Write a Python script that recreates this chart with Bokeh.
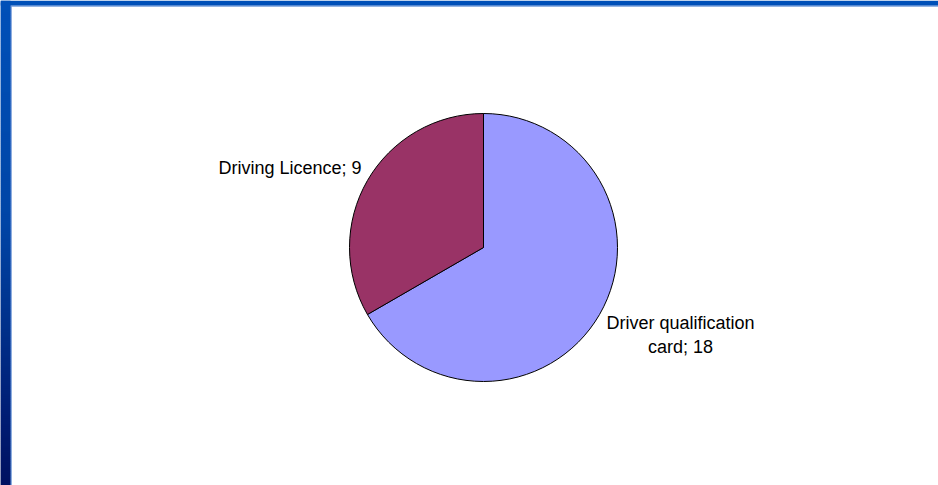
import math
from bokeh.plotting import figure
from bokeh.models import Range1d, ColumnDataSource
from bokeh.core.properties import value
from bokeh.embed import file_html
from bokeh.resources import INLINE

# ---- data ----
categories = ["Driver qualification card", "Driving Licence"]
values = [18, 9]
colors = ["#9999FF", "#993366"]

# ---- layout (figure pixel coordinates, origin bottom-left) ----
W, H = 938, 485
CX, CY, R = 483, H - 247, 134
# label anchors: (x, baseline y, align) per category, lines wrapped
label_lines = [["Driver qualification", "card; 18"], ["Driving Licence; 9"]]
label_pos = [(680, H - 322, "center"), (218, H - 167, "left")]
LINE_GAP = 24

p = figure(width=W, height=H, x_range=Range1d(0, W), y_range=Range1d(0, H),
           output_backend="svg", toolbar_location=None, min_border=0)
p.axis.visible = False
p.grid.visible = False
p.outline_line_color = None
p.background_fill_color = "white"
p.border_fill_color = "white"

# ---- slide frame (decoration) ----
stops_y = [0, 220, 300, 400, 485]
stops_c = [(0x00, 0x50, 0xB8), (0x00, 0x45, 0xA6), (0x00, 0x35, 0x90),
           (0x00, 0x20, 0x78), (0x00, 0x10, 0x60)]

def grad(py):
    for i in range(len(stops_y) - 1):
        if stops_y[i] <= py <= stops_y[i + 1]:
            t = (py - stops_y[i]) / (stops_y[i + 1] - stops_y[i])
            a, b = stops_c[i], stops_c[i + 1]
            return "#%02x%02x%02x" % tuple(int(round(a[k] + (b[k] - a[k]) * t)) for k in range(3))
    return "#%02x%02x%02x" % stops_c[-1]

ys = list(range(0, H, 2))
p.quad(left=[0] * len(ys), right=[10] * len(ys),
       top=[H - y for y in ys], bottom=[H - y - 4 for y in ys],
       fill_color=[grad(y) for y in ys], line_color=None)
p.quad(left=[0], right=[W], top=[H], bottom=[H - 5], fill_color="#0050B8", line_color=None)
p.quad(left=[10], right=[W], top=[H - 5], bottom=[H - 6], fill_color="#2E6CC8", line_color=None)
p.quad(left=[10], right=[11], top=[H - 6], bottom=[0], fill_color="#1E5CC0", line_color=None)

# ---- pie ----
total = sum(values)
starts, ends = [], []
cum = 0
for v in values:
    a0 = math.pi / 2 - 2 * math.pi * cum / total
    cum += v
    a1 = math.pi / 2 - 2 * math.pi * cum / total
    starts.append(a1)
    ends.append(a0)

src = ColumnDataSource(dict(cat=categories, val=values, color=colors,
                            start=starts, end=ends))
p.wedge(x=CX, y=CY, radius=R, radius_units="screen", start_angle="start",
        end_angle="end", fill_color="color", line_color="black", line_width=1,
        source=src)

# ---- labels ----
tx, ty, tt, ta = [], [], [], []
for lines, (x, y, align) in zip(label_lines, label_pos):
    for j, line in enumerate(lines):
        tx.append(x)
        ty.append(y - j * LINE_GAP)
        tt.append(line)
        ta.append(align)
p.text(x=tx, y=ty, text=tt, text_align=ta, text_baseline="alphabetic",
       text_font=value("Liberation Sans"), text_font_size="18px", text_color="black")

open("out.html", "w").write(file_html(p, INLINE))
